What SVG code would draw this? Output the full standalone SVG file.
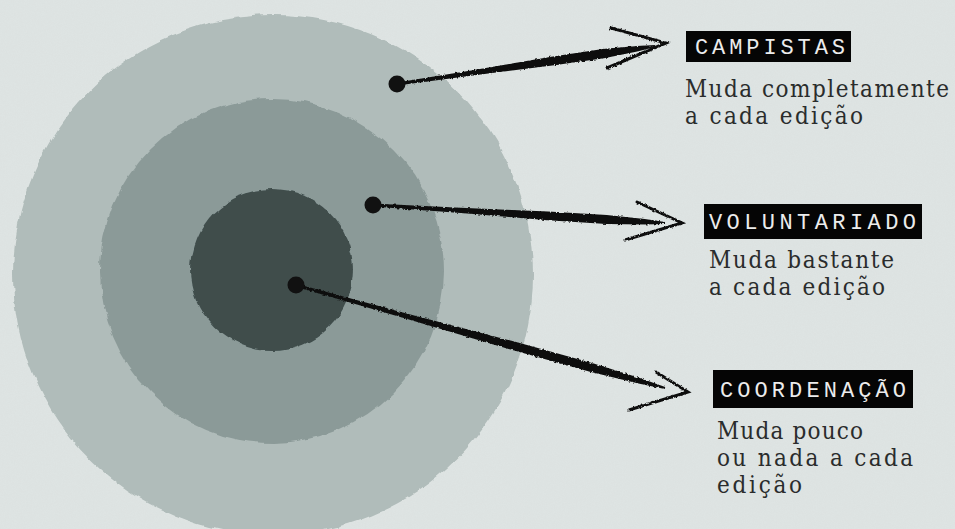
<svg xmlns="http://www.w3.org/2000/svg" width="955" height="529" viewBox="0 0 955 529">
  <defs>
    <style>
      .bg { fill: #dfe5e4; }
      .ring-outer { fill: #b0bcba; }
      .ring-mid { fill: #8b9a98; }
      .ring-inner { fill: #3f4d4c; }
      .dot { fill: #111; }
      .shaft { fill: #111; }
      .head { fill: none; stroke: #111; stroke-width: 3; stroke-linecap: round; stroke-linejoin: miter; }
      .tag { fill: #050505; }
      .tagtxt { font-family: "Liberation Mono", "DejaVu Sans Mono", monospace; font-size: 22px; fill: #ececec; }
      .body { font-family: "DejaVu Serif Condensed", "DejaVu Serif", "Liberation Serif", serif; font-size: 24px; fill: #2a2c2c; }
    </style>
    <filter id="rough" x="-5%" y="-5%" width="110%" height="110%">
      <feTurbulence type="fractalNoise" baseFrequency="0.06" numOctaves="3" seed="4" result="n"/>
      <feDisplacementMap in="SourceGraphic" in2="n" scale="6" xChannelSelector="R" yChannelSelector="G"/>
    </filter>
    <filter id="roughline" x="-5%" y="-20%" width="110%" height="140%">
      <feTurbulence type="fractalNoise" baseFrequency="0.35" numOctaves="2" seed="9" result="n"/>
      <feDisplacementMap in="SourceGraphic" in2="n" scale="3" xChannelSelector="R" yChannelSelector="G"/>
    </filter>
    <filter id="grain" x="0" y="0" width="100%" height="100%">
      <feTurbulence type="fractalNoise" baseFrequency="0.9" numOctaves="2" seed="2" result="t"/>
      <feColorMatrix in="t" type="matrix" values="0 0 0 0 0.5  0 0 0 0 0.5  0 0 0 0 0.5  0 0 0 0.18 0"/>
    </filter>
  </defs>

  <rect class="bg" x="0" y="0" width="955" height="529"/>
  <rect x="0" y="0" width="955" height="529" filter="url(#grain)" opacity="0.5"/>

  <g id="rings" filter="url(#rough)">
    <circle id="ring-campistas" class="ring-outer" cx="273" cy="275" r="260"/>
    <circle id="ring-voluntariado" class="ring-mid" cx="272" cy="271" r="172"/>
    <circle id="ring-coordenacao" class="ring-inner" cx="272" cy="270" r="81"/>
  </g>

  <g id="connectors">
    <g filter="url(#roughline)">
      <polygon class="shaft" points="396.8,82.5 474.1,70.0 551.2,56.8 602.8,49.0 636.5,45.9 654.9,45.0 655.1,47.0 637.3,51.6 604.0,58.2 552.4,65.6 474.7,75.2 397.2,85.5"/>
      <polygon class="shaft" points="373.1,203.5 460.7,207.8 548.4,211.4 606.8,214.9 644.8,218.9 665,222.0 665,224.0 644.4,224.5 606.4,223.9 548.0,220.2 460.5,213.0 372.9,206.5"/>
      <polygon class="shaft" points="295.4,283.6 406.6,313.4 518.0,342.5 592.1,363.0 639.8,378.1 665.2,387.0 664.8,389.0 638.4,383.6 589.9,371.8 516.0,351.1 405.4,318.4 294.7,286.5"/>
      <polyline class="head" points="611,28 666,43 607,68"/>
      <polyline class="head" points="637,202 682,223 625,240"/>
      <polyline class="head" points="656,372 688,392 629,410"/>
    </g>
    <circle class="dot" cx="397" cy="84" r="8.5"/>
    <circle class="dot" cx="373" cy="205" r="8.5"/>
    <circle class="dot" cx="296" cy="285" r="8.5"/>
  </g>

  <g id="campistas">
    <rect class="tag" x="686" y="31" width="165" height="31"/>
    <text class="tagtxt" x="695" y="54" textLength="150" lengthAdjust="spacing">CAMPISTAS</text>
    <text class="body" x="685" y="97" textLength="264" lengthAdjust="spacing">Muda completamente</text>
    <text class="body" x="685" y="124" textLength="178" lengthAdjust="spacing">a cada edição</text>
  </g>

  <g id="voluntariado">
    <rect class="tag" x="704" y="204" width="218" height="35"/>
    <text class="tagtxt" x="709" y="229" textLength="207" lengthAdjust="spacing">VOLUNTARIADO</text>
    <text class="body" x="709" y="268" textLength="185" lengthAdjust="spacing">Muda bastante</text>
    <text class="body" x="709" y="295" textLength="176" lengthAdjust="spacing">a cada edição</text>
  </g>

  <g id="coordenacao">
    <rect class="tag" x="713" y="370" width="200" height="38"/>
    <text class="tagtxt" x="720" y="397" textLength="186" lengthAdjust="spacing">COORDENAÇÃO</text>
    <text class="body" x="717" y="439" textLength="146" lengthAdjust="spacing">Muda pouco</text>
    <text class="body" x="717" y="466" textLength="196" lengthAdjust="spacing">ou nada a cada</text>
    <text class="body" x="717" y="493" textLength="85" lengthAdjust="spacing">edição</text>
  </g>
</svg>
